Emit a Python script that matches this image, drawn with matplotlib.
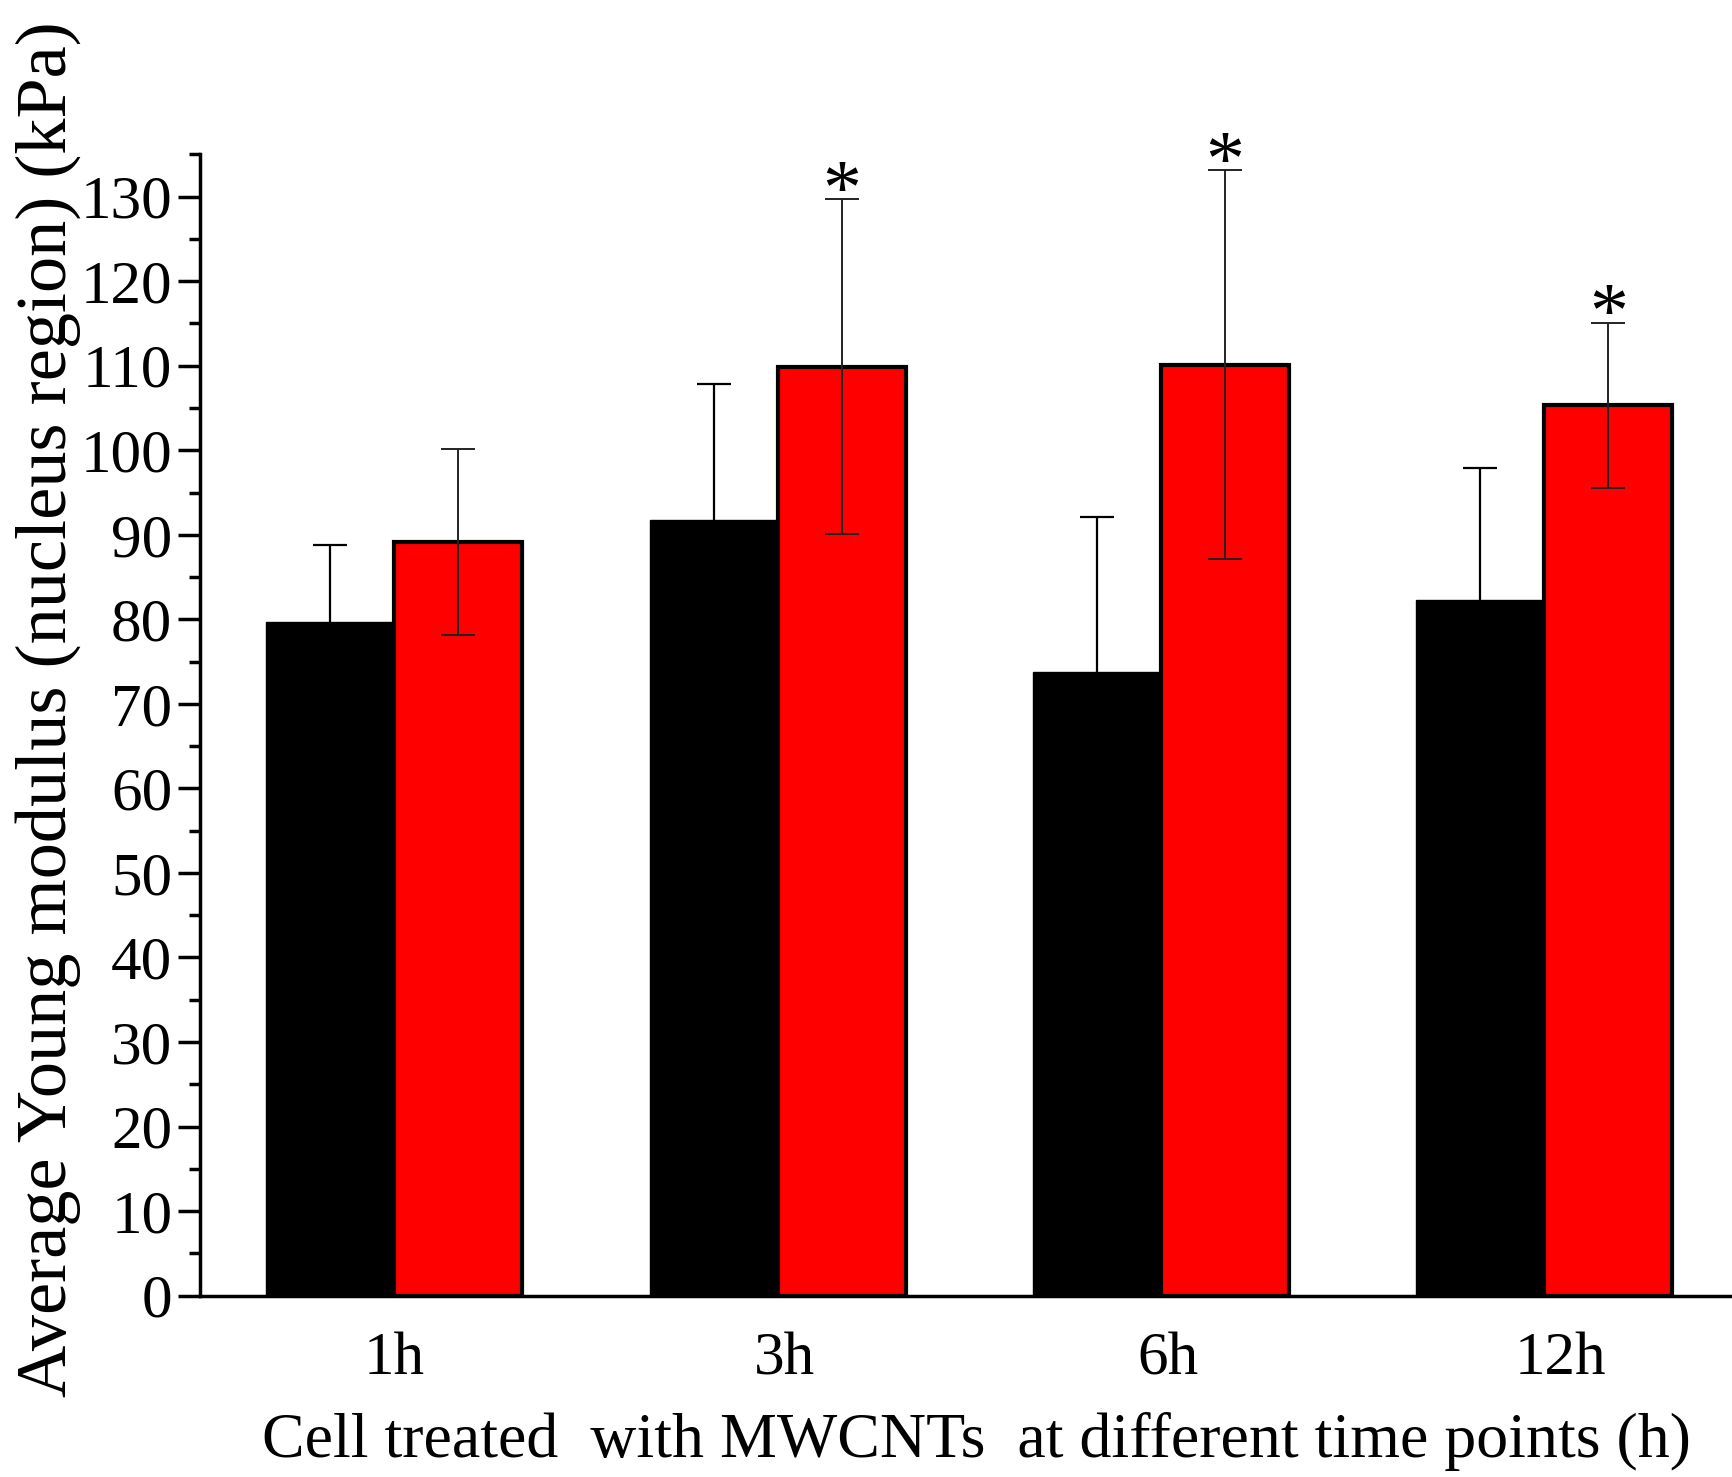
import matplotlib
matplotlib.use('Agg')

import matplotlib.pyplot as plt
import matplotlib.transforms as mtransforms
import numpy as np
from matplotlib.ticker import MultipleLocator

# --- data (kPa) ---
time_labels = ['1h', '3h', '6h', '12h']
control_mean = [79.7, 91.7, 73.8, 82.3]
control_err = [9.1, 16.1, 18.3, 15.6]
mwcnt_mean = [89.1, 109.9, 110.1, 105.3]
mwcnt_err = [11.0, 19.8, 23.0, 9.8]
significant = [False, True, True, True]

plt.rcParams['font.family'] = ['Liberation Serif', 'DejaVu Serif']

fig = plt.figure(figsize=(17.32, 14.77), dpi=100)
ax = fig.add_axes([0.1155, 0.1228, 0.8845, 0.7727])

x = np.arange(1, len(time_labels) + 1)
width = 0.334
lwd = 2.5

ax.bar(x - width / 2, control_mean, width, color='black', edgecolor='black',
       linewidth=1, zorder=2)
ax.bar(x + width / 2, mwcnt_mean, width, color='#ff0000', edgecolor='black',
       linewidth=3, zorder=2)

# error bars (upper part only visible on the black bars)
ax.errorbar(x - width / 2, control_mean, yerr=control_err, fmt='none',
            ecolor='black', elinewidth=1.6, capsize=12, capthick=1.6, zorder=3)
ax.errorbar(x + width / 2, mwcnt_mean, yerr=mwcnt_err, fmt='none',
            ecolor='#222222', elinewidth=1.4, capsize=12, capthick=1.4, zorder=3)

# significance stars
for xi, m, e, s in zip(x, mwcnt_mean, mwcnt_err, significant):
    if s:
        ax.annotate('*', xy=(xi + width / 2, m + e), xytext=(0, -22),
                    textcoords='offset points', ha='center', va='bottom',
                    fontsize=56)

# axes styling
ax.set_xlim(0.493, 4.49)
ax.set_ylim(0, 135)
ax.spines['top'].set_visible(False)
ax.spines['right'].set_visible(False)
ax.spines['left'].set_linewidth(lwd)
ax.spines['bottom'].set_linewidth(lwd)

ax.yaxis.set_major_locator(MultipleLocator(10))
ax.yaxis.set_minor_locator(MultipleLocator(5))
ax.tick_params(axis='y', which='major', direction='out', length=16, width=lwd,
               labelsize=44, pad=4)
ax.tick_params(axis='y', which='minor', direction='out', length=8, width=lwd)
ax.set_xticks(x)
ax.set_xticklabels(time_labels)
ax.tick_params(axis='x', which='both', length=0, labelsize=44, pad=26)

# small hand nudges of the category labels, as in the original figure
nudges = [0.0, 0.07, 0.07, 0.16]
for lab, dx in zip(ax.get_xticklabels(), nudges):
    lab.set_transform(lab.get_transform() +
                      mtransforms.ScaledTranslation(dx, 0, fig.dpi_scale_trans))

ax.set_ylabel('Average Young modulus (nucleus region) (kPa)', fontsize=52)
ax.yaxis.set_label_coords(-0.078, 0.514)
ax.set_xlabel('Cell treated  with MWCNTs  at different time points (h)',
              fontsize=46)
ax.xaxis.set_label_coords(0.5065, -0.128)
ax.xaxis.label.set_va('center')

plt.savefig('out.png', dpi=100)
